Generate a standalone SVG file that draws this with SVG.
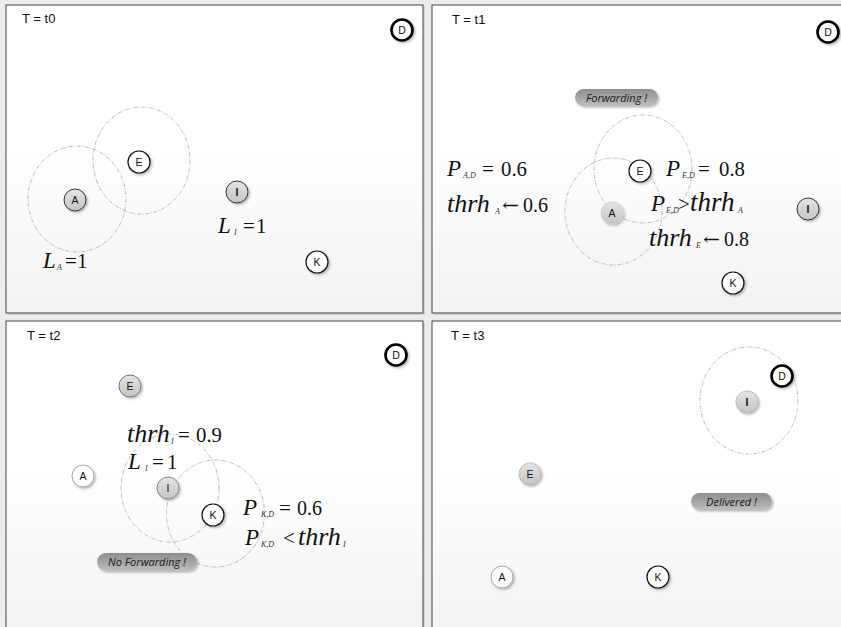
<svg xmlns="http://www.w3.org/2000/svg" width="841" height="627" viewBox="0 0 841 627">
<defs>
<linearGradient id="pg" x1="0" y1="0" x2="0" y2="1">
<stop offset="0" stop-color="#ffffff"/><stop offset="0.45" stop-color="#ffffff"/><stop offset="1" stop-color="#f2f2f2"/>
</linearGradient>
<linearGradient id="ng" x1="0" y1="0" x2="0" y2="1">
<stop offset="0" stop-color="#e4e4e4"/><stop offset="1" stop-color="#c4c4c4"/>
</linearGradient>
<linearGradient id="pill" x1="0" y1="0" x2="0" y2="1">
<stop offset="0" stop-color="#8e8e8e"/><stop offset="1" stop-color="#bdbdbd"/>
</linearGradient>
<filter id="sh" x="-50%" y="-50%" width="200%" height="200%">
<feDropShadow dx="1.5" dy="1.5" stdDeviation="1" flood-color="#000" flood-opacity="0.28"/>
</filter>
<style>
.panel{fill:url(#pg);stroke:#444;stroke-width:1}
.pshadow{fill:#d2d2d2}
.title{font-family:"Liberation Sans",Arial,sans-serif;font-size:13px;fill:#111}
.rng{fill:none;stroke:#a8a8a8;stroke-width:0.8;stroke-dasharray:4 1.5 1 1.5}
.n{fill:#fff;stroke:#111;stroke-width:1.2;filter:url(#sh)}
.nd{fill:#fff;stroke:#000;stroke-width:2.6;filter:url(#sh)}
.ng{fill:url(#ng);stroke:#333;stroke-width:1;filter:url(#sh)}
.nl{fill:#fff;stroke:#9a9a9a;stroke-width:0.9;filter:url(#sh)}
.ngl{fill:url(#ng);stroke:#a0a0a0;stroke-width:0.9;stroke-dasharray:2 1;filter:url(#sh)}
.lbl{font-family:"Liberation Sans",Arial,sans-serif;font-size:10.5px;fill:#111;text-anchor:middle}
.b{font-weight:bold}
.m{font-family:"Liberation Serif","Times New Roman",serif;font-style:italic;font-size:23px;fill:#111}
.mt{font-family:"Liberation Serif","Times New Roman",serif;font-style:italic;font-size:26px;fill:#111}
.s{font-family:"Liberation Serif","Times New Roman",serif;font-style:italic;font-size:8px;fill:#333}
.r{font-family:"Liberation Serif","Times New Roman",serif;font-size:21px;fill:#111}
.ar{font-family:"DejaVu Serif","DejaVu Sans",serif;font-size:17px;fill:#111}
.pill{fill:url(#pill);filter:url(#sh)}
.pt{font-family:"Open Sans","Liberation Sans",sans-serif;font-style:italic;font-size:11px;fill:#1a1a1a;text-anchor:middle}
</style>
</defs>
<rect x="0" y="0" width="841" height="627" fill="#ececec"/>

<!-- Panel frames -->
<g id="frames">
<rect class="pshadow" x="8" y="7" width="417" height="308"/>
<rect class="panel" x="6" y="5" width="417" height="308"/>
<rect class="pshadow" x="434" y="7" width="415" height="308"/>
<rect class="panel" x="432" y="5" width="415" height="308"/>
<rect class="pshadow" x="8" y="323" width="417" height="320"/>
<rect class="panel" x="6" y="321" width="417" height="320"/>
<rect class="pshadow" x="434" y="323" width="415" height="320"/>
<rect class="panel" x="432" y="321" width="415" height="320"/>
<text class="title" x="22" y="23">T = t0</text>
<text class="title" x="452" y="24">T = t1</text>
<text class="title" x="27" y="340">T = t2</text>
<text class="title" x="451" y="340">T = t3</text>
</g>

<!-- Ranges -->
<g id="connectors">
<ellipse class="rng" cx="77" cy="199" rx="49" ry="53"/>
<ellipse class="rng" cx="141.5" cy="160.5" rx="48.5" ry="53.5"/>
<ellipse class="rng" cx="643" cy="169" rx="49" ry="54"/>
<ellipse class="rng" cx="613.5" cy="211.5" rx="48.5" ry="53.5"/>
<ellipse class="rng" cx="170" cy="488" rx="49" ry="54"/>
<ellipse class="rng" cx="215.5" cy="513.5" rx="49" ry="53.5"/>
<ellipse class="rng" cx="749" cy="400.5" rx="49" ry="53.5"/>
</g>

<!-- Panel t0 -->
<g id="t0-D"><circle class="nd" cx="402" cy="30" r="10.5"/><text class="lbl" x="402" y="33.7">D</text></g>
<g id="t0-E"><circle class="n" cx="139" cy="162" r="11"/><text class="lbl" x="139" y="165.7">E</text></g>
<g id="t0-A"><circle class="ng" cx="75" cy="200" r="11"/><text class="lbl" x="75" y="203.7">A</text></g>
<g id="t0-I"><circle class="ng" cx="237" cy="192" r="11"/><text class="lbl b" x="237" y="195.7">I</text></g>
<g id="t0-K"><circle class="n" cx="317" cy="262" r="11"/><text class="lbl" x="317" y="265.7">K</text></g>
<g id="t0-LI"><text class="m" x="218" y="233">L</text><text class="s" x="234" y="235">I</text><text class="r" x="243" y="233">=</text><text class="r" x="256" y="233">1</text></g>
<g id="t0-LA"><text class="m" x="43" y="268">L</text><text class="s" x="57" y="270">A</text><text class="r" x="65" y="268">=</text><text class="r" x="77" y="268">1</text></g>

<!-- Panel t1 -->
<g id="t1-D"><circle class="nd" cx="828" cy="32" r="10.5"/><text class="lbl" x="828" y="35.7">D</text></g>
<g id="t1-E"><circle class="n" cx="640" cy="171" r="11"/><text class="lbl" x="640" y="174.7">E</text></g>
<g id="t1-A"><circle class="ng" cx="612" cy="213" r="11" style="stroke:#cfcfcf"/><text class="lbl" x="612" y="216.7">A</text></g>
<g id="t1-I"><circle class="ng" cx="808" cy="209" r="11"/><text class="lbl b" x="808" y="212.7">I</text></g>
<g id="t1-K"><circle class="n" cx="733" cy="283" r="11"/><text class="lbl" x="733" y="286.7">K</text></g>
<g id="t1-fwd"><rect class="pill" x="575" y="89" width="83" height="17" rx="8.5"/><text class="pt" x="616.5" y="101.5">Forwarding !</text></g>
<g id="t1-PAD"><text class="m" x="447" y="176">P</text><text class="s" x="463" y="178">A,D</text><text class="r" x="482" y="176">=</text><text class="r" x="501" y="176" textLength="26" lengthAdjust="spacingAndGlyphs">0.6</text></g>
<g id="t1-thrhA"><text class="mt" x="447" y="212">thrh</text><text class="s" x="495" y="214">A</text><text class="ar" x="502" y="211" textLength="17" lengthAdjust="spacingAndGlyphs">←</text><text class="r" x="523" y="212" textLength="25" lengthAdjust="spacingAndGlyphs">0.6</text></g>
<g id="t1-PED"><text class="m" x="666" y="176">P</text><text class="s" x="682" y="178">E,D</text><text class="r" x="698" y="176">=</text><text class="r" x="719" y="176" textLength="26" lengthAdjust="spacingAndGlyphs">0.8</text></g>
<g id="t1-cmp"><text class="m" x="651" y="211">P</text><text class="s" x="666" y="213">E,D</text><text class="r" x="678" y="211">&gt;</text><text class="mt" x="690" y="211" style="font-size:27px">thrh</text><text class="s" x="738" y="213">A</text></g>
<g id="t1-thrhE"><text class="mt" x="649" y="246">thrh</text><text class="s" x="696" y="248">E</text><text class="ar" x="703" y="245" textLength="17" lengthAdjust="spacingAndGlyphs">←</text><text class="r" x="724" y="246" textLength="25" lengthAdjust="spacingAndGlyphs">0.8</text></g>

<!-- Panel t2 -->
<g id="t2-D"><circle class="nd" cx="396" cy="355" r="10.5"/><text class="lbl" x="396" y="358.7">D</text></g>
<g id="t2-E"><circle class="ng" cx="130" cy="386" r="11" style="stroke:#777"/><text class="lbl" x="130" y="389.7">E</text></g>
<g id="t2-A"><circle class="nl" cx="83" cy="476" r="11"/><text class="lbl" x="83" y="479.7">A</text></g>
<g id="t2-I"><circle class="ng" cx="168" cy="488" r="11" style="stroke:#888"/><text class="lbl" x="168" y="491.7">I</text></g>
<g id="t2-K"><circle class="n" cx="213" cy="515" r="11"/><text class="lbl" x="213" y="518.7">K</text></g>
<g id="t2-nofwd"><rect class="pill" x="97" y="553" width="100" height="18" rx="9"/><text class="pt" x="147" y="566">No Forwarding !</text></g>
<g id="t2-thrhI"><text class="mt" x="127" y="442">thrh</text><text class="s" x="171" y="444">I</text><text class="r" x="178" y="442">=</text><text class="r" x="196" y="442" textLength="26" lengthAdjust="spacingAndGlyphs">0.9</text></g>
<g id="t2-LI"><text class="m" x="128" y="469">L</text><text class="s" x="145" y="471">I</text><text class="r" x="152" y="469">=</text><text class="r" x="167" y="469">1</text></g>
<g id="t2-PKD"><text class="m" x="243" y="515">P</text><text class="s" x="261" y="517">K,D</text><text class="r" x="279" y="515">=</text><text class="r" x="297" y="515" textLength="25" lengthAdjust="spacingAndGlyphs">0.6</text></g>
<g id="t2-cmp"><text class="m" x="245" y="545">P</text><text class="s" x="261" y="547">K,D</text><text class="r" x="283" y="545">&lt;</text><text class="mt" x="298" y="545">thrh</text><text class="s" x="343" y="547">I</text></g>

<!-- Panel t3 -->
<g id="t3-D"><circle class="nd" cx="782" cy="376" r="10.5"/><text class="lbl" x="782" y="379.7">D</text></g>
<g id="t3-I"><circle class="ngl" cx="747" cy="402" r="11"/><text class="lbl b" x="747" y="405.7">I</text></g>
<g id="t3-E"><circle class="ngl" cx="530" cy="474" r="11"/><text class="lbl" x="530" y="477.7">E</text></g>
<g id="t3-del"><rect class="pill" x="691" y="493" width="81" height="17" rx="8.5"/><text class="pt" x="731.5" y="505.5">Delivered !</text></g>
<g id="t3-A"><circle class="nl" cx="502" cy="577" r="11"/><text class="lbl" x="502" y="580.7">A</text></g>
<g id="t3-K"><circle class="n" cx="658" cy="577" r="11"/><text class="lbl" x="658" y="580.7">K</text></g>
</svg>
